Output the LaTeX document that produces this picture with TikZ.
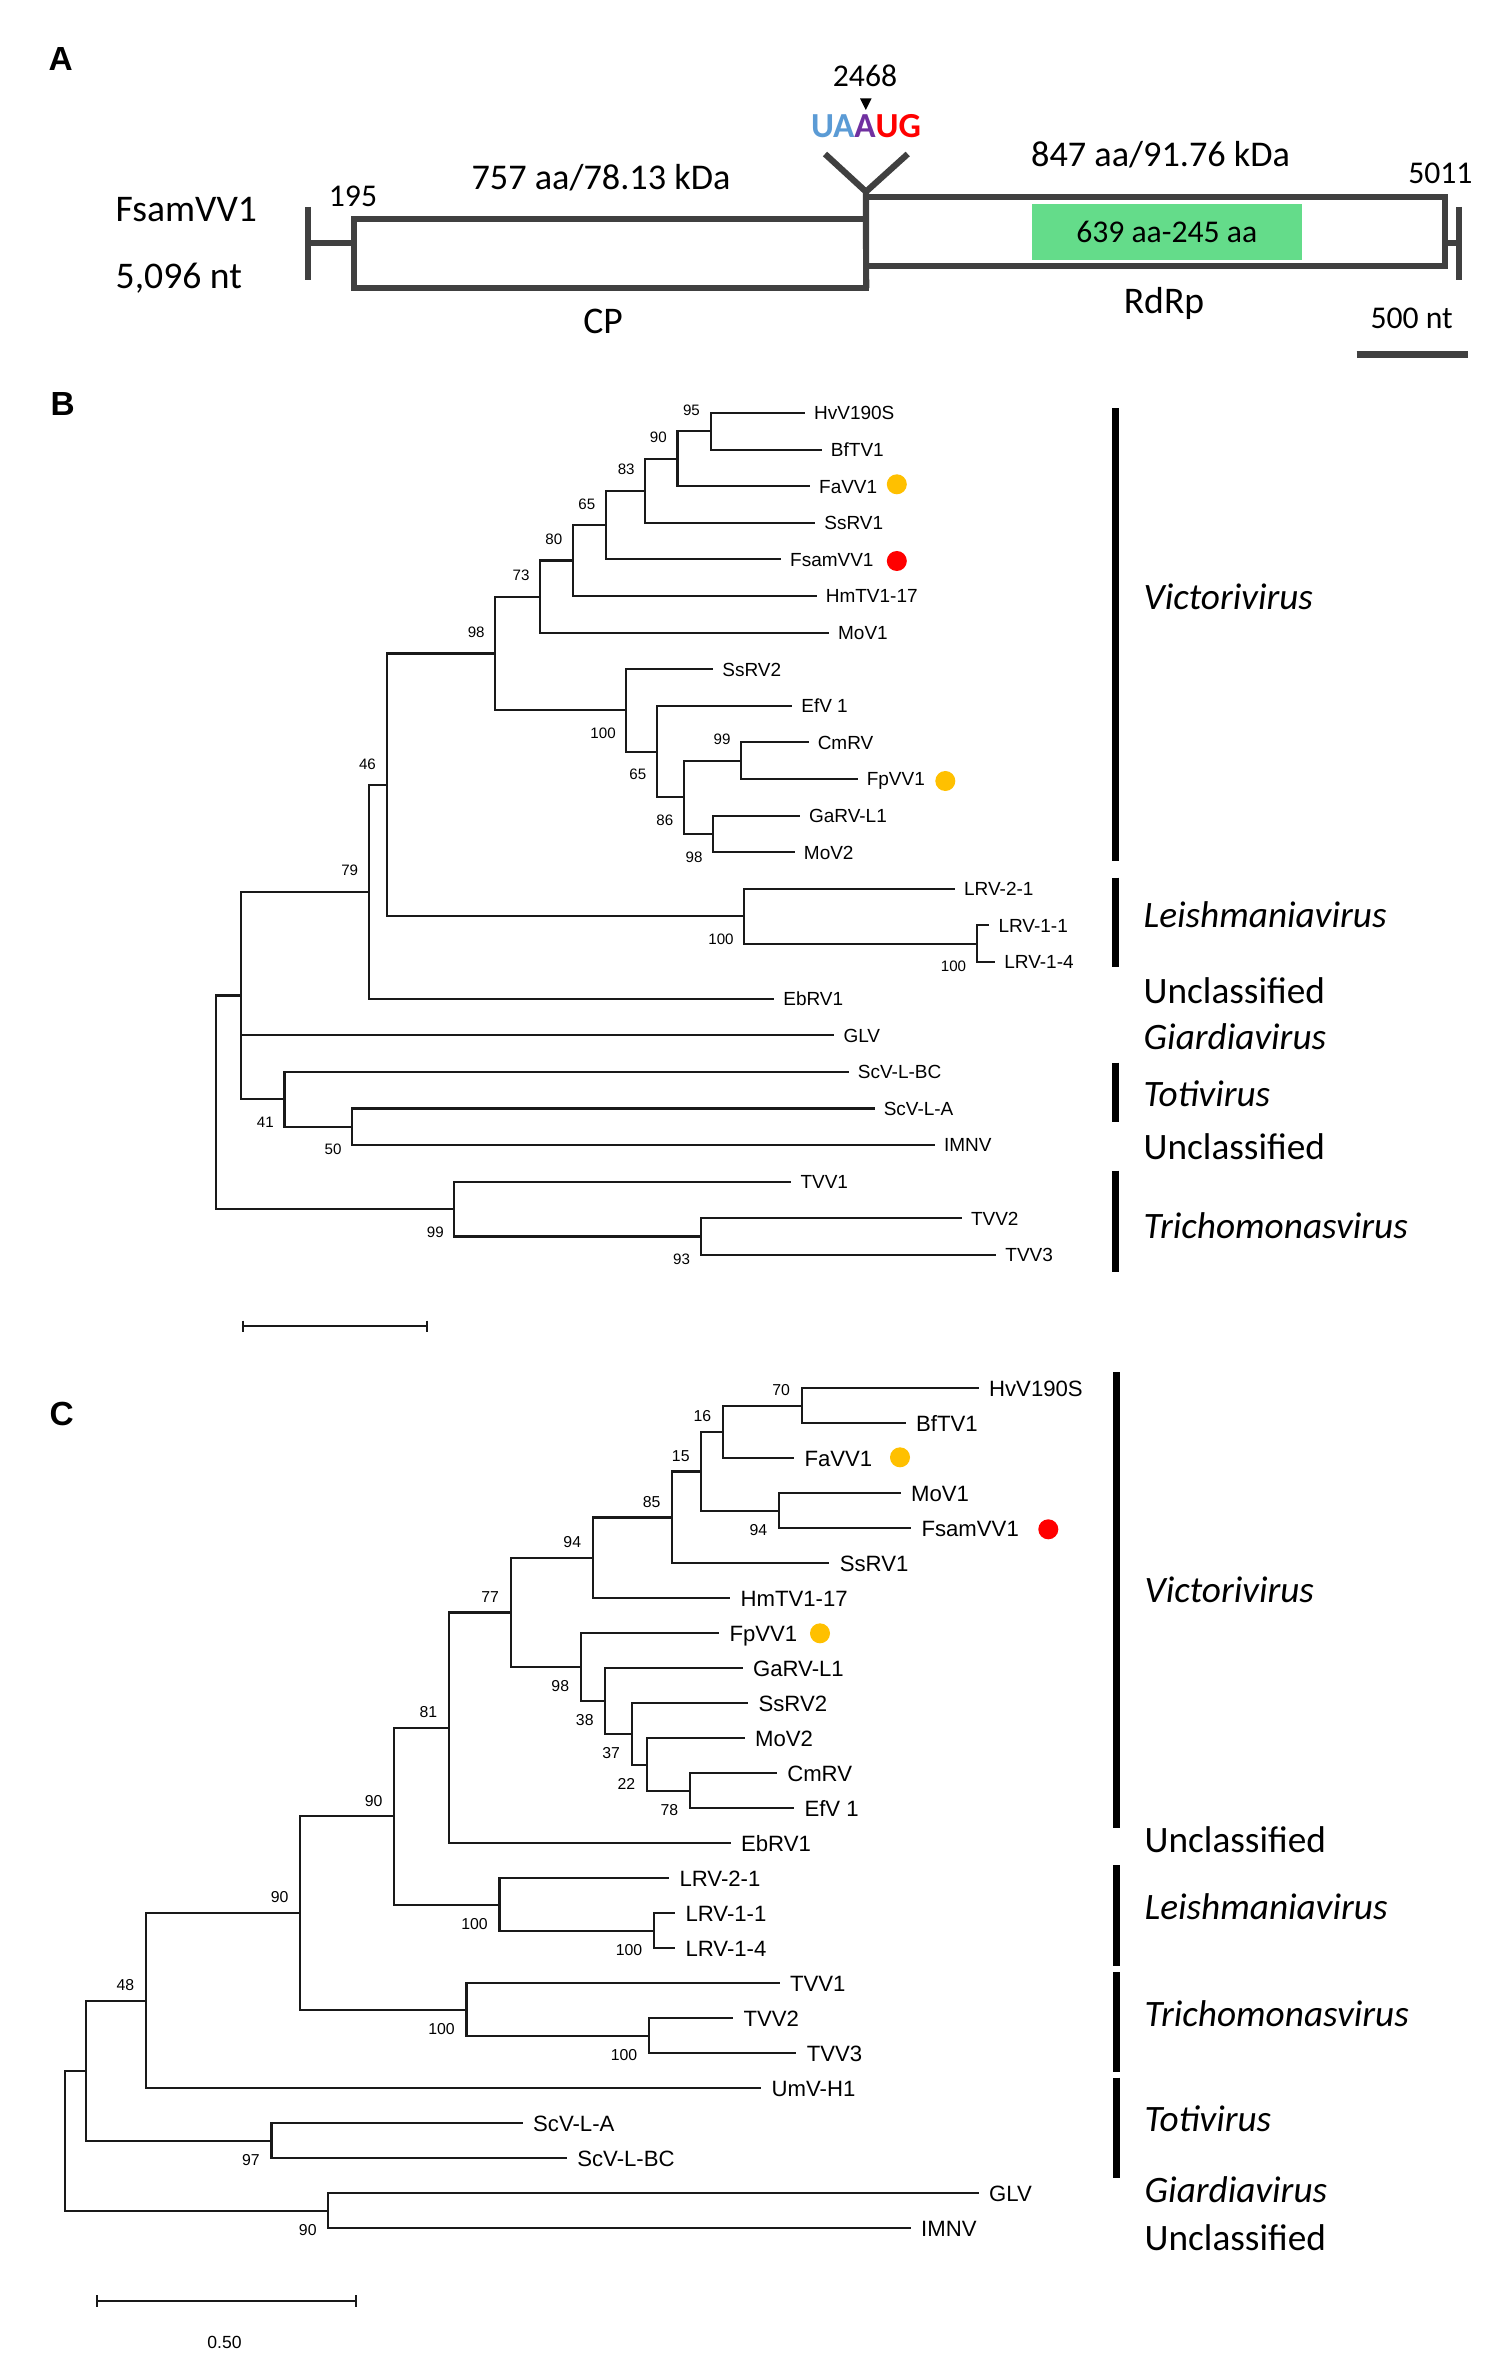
\documentclass[tikz,border=0pt]{standalone}
\usepackage{fontspec}
\setmainfont{Carlito}
\newfontfamily\arialf{Liberation Sans}
\usepackage{tikz}
\usetikzlibrary{positioning}
\definecolor{genegray}{HTML}{404040}
\definecolor{domgreen}{HTML}{64DC8A}
\definecolor{codonblue}{HTML}{5B9BD5}
\definecolor{codonpurple}{HTML}{7030A0}
\definecolor{codonred}{HTML}{FF0000}
\definecolor{dotyellow}{HTML}{FFC000}
\definecolor{dotred}{HTML}{FF0000}
\tikzset{
  panel/.style = {anchor=base west, inner sep=0pt,
                  font=\arialf\bfseries\fontsize{9.5}{11}\selectfont},
  orf/.style = {draw=genegray, line width=0.062cm, inner sep=0pt, outer sep=0pt},
  orfline/.style = {genegray, line width=0.062cm},
  domainbox/.style = {fill=domgreen, inner sep=0pt, outer sep=0pt,
                      font=\fontsize{9}{10}\selectfont},
  gname/.style = {anchor=base, inner sep=0pt, font=\fontsize{10.7}{12}\selectfont},
  gsize/.style = {anchor=base, inner sep=0pt, font=\fontsize{10.3}{12}\selectfont},
  gnum/.style = {anchor=base, inner sep=0pt, font=\fontsize{9}{10}\selectfont},
  branch/.style = {line width=0.62pt, black!90},
  leafB/.style = {anchor=west, inner xsep=2.6pt, inner ysep=0pt, outer sep=0pt,
                  text height=3.9pt, text depth=0pt,
                  font=\arialf\fontsize{5.4}{6}\selectfont},
  leafC/.style = {leafB, inner xsep=3pt, text height=4.5pt,
                  font=\arialf\fontsize{6.3}{7}\selectfont},
  bsB/.style = {anchor=east, inner sep=0pt, font=\arialf\fontsize{4.3}{5}\selectfont},
  upB/.style = {bsB, xshift=-0.1cm, yshift=0.21cm},
  dnB/.style = {bsB, xshift=-0.1cm, yshift=-0.23cm},
  bsC/.style = {anchor=east, inner sep=0pt, font=\arialf\fontsize{4.5}{5}\selectfont},
  upC/.style = {bsC, xshift=-0.11cm, yshift=0.155cm},
  dnC/.style = {bsC, xshift=-0.11cm, yshift=-0.19cm},
  dotY/.style = {circle, fill=dotyellow, inner sep=0pt, minimum size=0.2cm},
  dotR/.style = {circle, fill=dotred, inner sep=0pt, minimum size=0.2cm},
  cladebar/.style = {line width=0.07cm, black},
  grp/.style = {anchor=base west, inner sep=0pt, font=\fontsize{10.6}{12}\selectfont}
}
\begin{document}
\begin{tikzpicture}[x=0.01cm, y=-0.01cm]
\useasboundingbox (0,0) rectangle (1508,2379);

% ---------- A: genome map
\node[panel] (labA) at (48,70.7) {A};
\node[orf, minimum width=5.116cm, minimum height=0.69cm] (cp) at (610.2,253.5) {};
\node[orf, minimum width=5.79cm, minimum height=0.696cm] (rdrp) at (1155.5,231.5) {};
\node[domainbox, minimum width=2.7cm, minimum height=0.56cm] (dom) at (1166.7,232) {639 aa-245 aa};
\coordinate (five) at (308,243);
\coordinate (three) at (1459,243);
\draw[orfline] (308,207) -- (308,280);
\draw[orfline] (five) -- (cp.west |- five);
\draw[orfline] (rdrp.east |- three) -- (three);
\draw[orfline] (1459,207) -- (1459,280);
\coordinate (junc) at (866,191.7);
\draw[orfline] (825,154) -- (junc) -- (907.7,154);
\draw[orfline] (junc) -- (cp.south east);
\fill (860,98.3) -- (871.7,98.3) -- (865.8,110) -- cycle;
\node[gnum] (pos) at (865,86.7) {2468};
\node[anchor=base, inner sep=0pt, font=\bfseries\fontsize{10}{12}\selectfont] (codon) at (866,137.3)
  {\textcolor{codonblue}{UA}\textcolor{codonpurple}{A}\textcolor{codonred}{UG}};
\node[gname, anchor=base west] (vname) at (115,221.7) {FsamVV1};
\node[gname, anchor=base west] (vlen) at (115,288.3) {5,096 nt};
\node[gnum] (start) at (353,206.7) {195};
\node[gnum] (stop) at (1440.4,183.3) {5011};
\node[gsize] (cpsize) at (601,190) {757 aa/78.13 kDa};
\node[gsize] (rdsize) at (1160.6,166.7) {847 aa/91.76 kDa};
\node[gname] (cplab) at (603,333.3) {CP};
\node[gname] (rdlab) at (1164,313.3) {RdRp};
\node[gnum] (sclab) at (1411.7,328.3) {500 nt};
\draw[genegray, line width=0.073cm] (1356.7,354.7) -- (1468.3,354.7);

% ---------- B: tree
\node[panel] (labB) at (50,415.7) {B};
\node[leafB] (hvvB) at (805,413.0) {HvV190S};
\node[leafB] (bftB) at (821.8,449.6) {BfTV1};
\node[leafB] (favB) at (810,486.2) {FaVV1};
\node[leafB] (ssr1B) at (815.2,522.8) {SsRV1};
\node[leafB] (fsamB) at (781,559.4) {FsamVV1};
\node[leafB] (hmtB) at (816.7,596.0) {HmTV1-17};
\node[leafB] (mov1B) at (829,632.6) {MoV1};
\node[leafB] (ssr2B) at (713.2,669.2) {SsRV2};
\node[leafB] (efvB) at (792.2,705.8) {EfV 1};
\node[leafB] (cmrB) at (808.6,742.4) {CmRV};
\node[leafB] (fpvB) at (857.6,779.0) {FpVV1};
\node[leafB] (garB) at (799.9,815.6) {GaRV-L1};
\node[leafB] (mov2B) at (794.8,852.2) {MoV2};
\node[leafB] (lrv21B) at (955,888.8) {LRV-2-1};
\node[leafB] (lrv11B) at (989.4,925.4) {LRV-1-1};
\node[leafB] (lrv14B) at (995.2,962.0) {LRV-1-4};
\node[leafB] (ebrB) at (774.2,998.6) {EbRV1};
\node[leafB] (glvB) at (834.4,1035.2) {GLV};
\node[leafB] (scvbcB) at (848.8,1071.8) {ScV-L-BC};
\node[leafB] (scvaB) at (874.6,1108.4) {ScV-L-A};
\node[leafB] (imnvB) at (934.9,1145.0) {IMNV};
\node[leafB] (tvv1B) at (791.4,1181.6) {TVV1};
\node[leafB] (tvv2B) at (961.9,1218.2) {TVV2};
\node[leafB] (tvv3B) at (996.3,1254.8) {TVV3};

\coordinate (b95) at (710.6,431.3);
\coordinate (b90) at (677.4,458.8);
\coordinate (b83) at (645.3,490.8);
\coordinate (b65) at (606.0,525.1);
\coordinate (b80) at (572.9,560.5);
\coordinate (b73) at (540.2,596.6);
\coordinate (b98) at (495.3,653.5);
\coordinate (b100) at (626.4,710.4);
\coordinate (b65b) at (657.0,751.6);
\coordinate (b86) at (684.0,797.3);
\coordinate (b99) at (741.2,760.7);
\coordinate (b98b) at (713.2,833.9);
\coordinate (b46) at (386.6,784.9);
\coordinate (blrv) at (744.3,916.3);
\coordinate (blrv1) at (976.8,943.7);
\coordinate (b79) at (368.8,891.8);
\coordinate (bing) at (241.4,995.5);
\coordinate (b41) at (284.5,1099.3);
\coordinate (b50) at (352.2,1126.7);
\coordinate (btvv) at (454.4,1209.0);
\coordinate (btvv23) at (700.7,1236.5);
\coordinate (brootB) at (215.6,1102.3);

\draw[branch] (b95) |- (hvvB.west);
\draw[branch] (b95) |- (bftB.west);
\draw[branch] (b90) |- (b95);
\draw[branch] (b90) |- (favB.west);
\draw[branch] (b83) |- (b90);
\draw[branch] (b83) |- (ssr1B.west);
\draw[branch] (b65) |- (b83);
\draw[branch] (b65) |- (fsamB.west);
\draw[branch] (b80) |- (b65);
\draw[branch] (b80) |- (hmtB.west);
\draw[branch] (b73) |- (b80);
\draw[branch] (b73) |- (mov1B.west);
\draw[branch] (b98) |- (b73);
\draw[branch] (b98) |- (b100);
\draw[branch] (b100) |- (ssr2B.west);
\draw[branch] (b100) |- (b65b);
\draw[branch] (b65b) |- (efvB.west);
\draw[branch] (b65b) |- (b86);
\draw[branch] (b86) |- (b99);
\draw[branch] (b86) |- (b98b);
\draw[branch] (b99) |- (cmrB.west);
\draw[branch] (b99) |- (fpvB.west);
\draw[branch] (b98b) |- (garB.west);
\draw[branch] (b98b) |- (mov2B.west);
\draw[branch] (b46) |- (b98);
\draw[branch] (b46) |- (blrv);
\draw[branch] (blrv) |- (lrv21B.west);
\draw[branch] (blrv) |- (blrv1);
\draw[branch] (blrv1) |- (lrv11B.west);
\draw[branch] (blrv1) |- (lrv14B.west);
\draw[branch] (b79) |- (b46);
\draw[branch] (b79) |- (ebrB.west);
\draw[branch] (bing) |- (b79);
\draw[branch] (bing) |- (glvB.west);
\draw[branch] (bing) |- (b41);
\draw[branch] (b41) |- (scvbcB.west);
\draw[branch] (b41) |- (b50);
\draw[branch] (b50) |- (scvaB.west);
\draw[branch] (b50) |- (imnvB.west);
\draw[branch] (brootB) |- (bing);
\draw[branch] (brootB) |- (btvv);
\draw[branch] (btvv) |- (tvv1B.west);
\draw[branch] (btvv) |- (btvv23);
\draw[branch] (btvv23) |- (tvv2B.west);
\draw[branch] (btvv23) |- (tvv3B.west);

\node[upB] at (b95) {95};
\node[upB] at (b90) {90};
\node[upB] at (b83) {83};
\node[upB] at (b65) {65};
\node[upB] at (b80) {80};
\node[upB] at (b73) {73};
\node[upB] at (b98) {98};
\node[dnB] at (b100) {100};
\node[dnB] at (b65b) {65};
\node[dnB] at (b86) {86};
\node[upB] at (b99) {99};
\node[dnB] at (b98b) {98};
\node[upB] at (b46) {46};
\node[upB] at (b79) {79};
\node[dnB] at (blrv) {100};
\node[dnB] at (blrv1) {100};
\node[dnB] at (b41) {41};
\node[dnB] at (b50) {50};
\node[dnB] at (btvv) {99};
\node[dnB] at (btvv23) {93};

\node[dotY] (favdotB) at (896.8,484.3) {};
\node[dotR] (fsamdotB) at (896.8,561) {};
\node[dotY] (fpvdotB) at (945.3,781) {};

\draw[branch] (242.7,1326) -- (426.7,1326);
\draw[branch] (242.7,1320.5) -- (242.7,1331.5);
\draw[branch] (426.7,1320.5) -- (426.7,1331.5);

\draw[cladebar] (1115,408.2) -- (1115,861);
\draw[cladebar] (1115,877.6) -- (1115,966.8);
\draw[cladebar] (1115,1062.5) -- (1115,1122.4);
\draw[cladebar] (1115,1170.5) -- (1115,1272);
\node[grp] (vicB) at (1143,609) {\itshape Victorivirus};
\node[grp] (leiB) at (1143,927) {\itshape Leishmaniavirus};
\node[grp] (unc1B) at (1143,1003.2) {Unclassified};
\node[grp] (giaB) at (1143,1049) {\itshape Giardiavirus};
\node[grp] (totB) at (1143,1106) {\itshape Totivirus};
\node[grp] (unc2B) at (1143,1159.3) {Unclassified};
\node[grp] (triB) at (1143,1238) {\itshape Trichomonasvirus};

% ---------- C: tree
\node[panel] (labC) at (49,1425) {C};
\node[leafC] (hvvC) at (978.6,1388.3) {HvV190S};
\node[leafC] (bftC) at (905.5,1423.3) {BfTV1};
\node[leafC] (favC) at (794,1458.3) {FaVV1};
\node[leafC] (mov1C) at (900.5,1493.3) {MoV1};
\node[leafC] (fsamC) at (911,1528.3) {FsamVV1};
\node[leafC] (ssr1C) at (829.3,1563.3) {SsRV1};
\node[leafC] (hmtC) at (730,1598.3) {HmTV1-17};
\node[leafC] (fpvC) at (719,1633.3) {FpVV1};
\node[leafC] (garC) at (742.5,1668.3) {GaRV-L1};
\node[leafC] (ssr2C) at (748,1703.3) {SsRV2};
\node[leafC] (mov2C) at (744.5,1738.3) {MoV2};
\node[leafC] (cmrC) at (776.7,1773.3) {CmRV};
\node[leafC] (efvC) at (794,1808.3) {EfV 1};
\node[leafC] (ebrC) at (730.5,1843.3) {EbRV1};
\node[leafC] (lrv21C) at (669,1878.3) {LRV-2-1};
\node[leafC] (lrv11C) at (675,1913.3) {LRV-1-1};
\node[leafC] (lrv14C) at (675,1948.3) {LRV-1-4};
\node[leafC] (tvv1C) at (779.5,1983.3) {TVV1};
\node[leafC] (tvv2C) at (733,2018.3) {TVV2};
\node[leafC] (tvv3C) at (796.2,2053.3) {TVV3};
\node[leafC] (umvC) at (761.1,2088.3) {UmV-H1};
\node[leafC] (scvaC) at (522.6,2123.3) {ScV-L-A};
\node[leafC] (scvbcC) at (566.8,2158.3) {ScV-L-BC};
\node[leafC] (glvC) at (978.6,2193.3) {GLV};
\node[leafC] (imnvC) at (910.6,2228.3) {IMNV};

\coordinate (c70) at (801.7,1405.8);
\coordinate (c16) at (722.9,1432.0);
\coordinate (c94) at (779.0,1510.8);
\coordinate (c15) at (701.3,1471.4);
\coordinate (c85) at (672.2,1517.4);
\coordinate (c94b) at (592.8,1557.8);
\coordinate (c78) at (690.0,1790.8);
\coordinate (c22) at (647.0,1764.6);
\coordinate (c37) at (631.6,1734.0);
\coordinate (c38) at (605.3,1701.1);
\coordinate (c98) at (580.8,1667.2);
\coordinate (c77) at (510.7,1612.5);
\coordinate (c81) at (449.0,1727.9);
\coordinate (clrv1) at (654.0,1930.8);
\coordinate (clrv) at (499.5,1904.6);
\coordinate (c90a) at (394.2,1816.2);
\coordinate (ctvv23) at (648.9,2035.8);
\coordinate (ctvv) at (466.5,2009.6);
\coordinate (c90b) at (300.2,1912.9);
\coordinate (c48) at (145.9,2000.6);
\coordinate (c97) at (271.5,2140.8);
\coordinate (cs) at (85.6,2070.7);
\coordinate (c90g) at (328.3,2210.8);
\coordinate (crootC) at (65.2,2140.8);

\draw[branch] (c70) |- (hvvC.west);
\draw[branch] (c70) |- (bftC.west);
\draw[branch] (c16) |- (c70);
\draw[branch] (c16) |- (favC.west);
\draw[branch] (c94) |- (mov1C.west);
\draw[branch] (c94) |- (fsamC.west);
\draw[branch] (c15) |- (c16);
\draw[branch] (c15) |- (c94);
\draw[branch] (c85) |- (c15);
\draw[branch] (c85) |- (ssr1C.west);
\draw[branch] (c94b) |- (c85);
\draw[branch] (c94b) |- (hmtC.west);
\draw[branch] (c77) |- (c94b);
\draw[branch] (c77) |- (c98);
\draw[branch] (c98) |- (fpvC.west);
\draw[branch] (c98) |- (c38);
\draw[branch] (c38) |- (garC.west);
\draw[branch] (c38) |- (c37);
\draw[branch] (c37) |- (ssr2C.west);
\draw[branch] (c37) |- (c22);
\draw[branch] (c22) |- (mov2C.west);
\draw[branch] (c22) |- (c78);
\draw[branch] (c78) |- (cmrC.west);
\draw[branch] (c78) |- (efvC.west);
\draw[branch] (c81) |- (c77);
\draw[branch] (c81) |- (ebrC.west);
\draw[branch] (c90a) |- (c81);
\draw[branch] (c90a) |- (clrv);
\draw[branch] (clrv) |- (lrv21C.west);
\draw[branch] (clrv) |- (clrv1);
\draw[branch] (clrv1) |- (lrv11C.west);
\draw[branch] (clrv1) |- (lrv14C.west);
\draw[branch] (c90b) |- (c90a);
\draw[branch] (c90b) |- (ctvv);
\draw[branch] (ctvv) |- (tvv1C.west);
\draw[branch] (ctvv) |- (ctvv23);
\draw[branch] (ctvv23) |- (tvv2C.west);
\draw[branch] (ctvv23) |- (tvv3C.west);
\draw[branch] (c48) |- (c90b);
\draw[branch] (c48) |- (umvC.west);
\draw[branch] (cs) |- (c48);
\draw[branch] (cs) |- (c97);
\draw[branch] (c97) |- (scvaC.west);
\draw[branch] (c97) |- (scvbcC.west);
\draw[branch] (crootC) |- (cs);
\draw[branch] (crootC) |- (c90g);
\draw[branch] (c90g) |- (glvC.west);
\draw[branch] (c90g) |- (imnvC.west);

\node[upC] at (c70) {70};
\node[upC] at (c16) {16};
\node[upC] at (c15) {15};
\node[upC] at (c85) {85};
\node[dnC] at (c94) {94};
\node[upC] at (c94b) {94};
\node[upC] at (c77) {77};
\node[dnC] at (c98) {98};
\node[dnC] at (c38) {38};
\node[dnC] at (c37) {37};
\node[dnC] at (c22) {22};
\node[dnC] at (c78) {78};
\node[upC] at (c81) {81};
\node[upC] at (c90a) {90};
\node[dnC] at (clrv) {100};
\node[dnC] at (clrv1) {100};
\node[upC] at (c90b) {90};
\node[dnC] at (ctvv) {100};
\node[dnC] at (ctvv23) {100};
\node[upC] at (c48) {48};
\node[dnC] at (c97) {97};
\node[dnC] at (c90g) {90};

\node[dotY] (favdotC) at (900,1457.3) {};
\node[dotR] (fsamdotC) at (1048.3,1529.3) {};
\node[dotY] (fpvdotC) at (820,1633.3) {};

\draw[branch] (96.8,2301) -- (355.7,2301);
\draw[branch] (96.8,2295) -- (96.8,2307);
\draw[branch] (355.7,2295) -- (355.7,2307);
\node[inner sep=0pt, font=\arialf\fontsize{5}{6}\selectfont] (scaleC) at (224.5,2342.6) {0.50};

\draw[cladebar] (1116,1372.3) -- (1116,1828.3);
\draw[cladebar] (1116,1865) -- (1116,1966);
\draw[cladebar] (1116,1972) -- (1116,2072);
\draw[cladebar] (1116,2077.7) -- (1116,2177.5);
\node[grp] (vicC) at (1144,1602.3) {\itshape Victorivirus};
\node[grp] (unc1C) at (1144,1852.9) {Unclassified};
\node[grp] (leiC) at (1144,1919.2) {\itshape Leishmaniavirus};
\node[grp] (triC) at (1144,2026) {\itshape Trichomonasvirus};
\node[grp] (totC) at (1144,2131.7) {\itshape Totivirus};
\node[grp] (giaC) at (1144,2202) {\itshape Giardiavirus};
\node[grp] (unc2C) at (1144,2250.8) {Unclassified};
\end{tikzpicture}
\end{document}
